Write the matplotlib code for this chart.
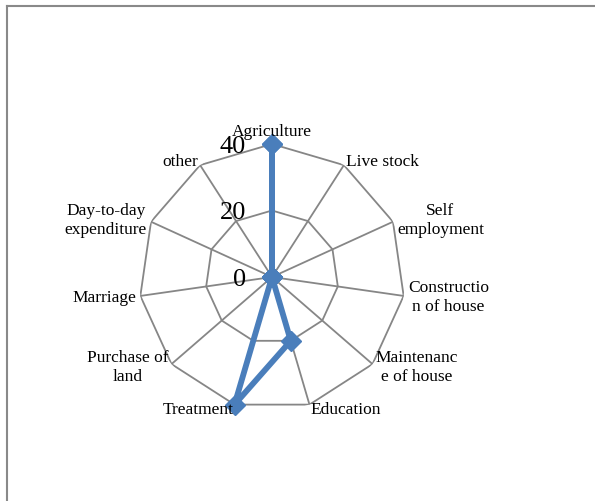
import numpy as np
import matplotlib
matplotlib.use("Agg")
import matplotlib.pyplot as plt
from matplotlib.lines import Line2D

plt.rcParams['font.family'] = ['Liberation Serif', 'DejaVu Serif']

categories = ["Agriculture", "Live stock", "Self\nemployment", "Constructio\nn of house",
              "Maintenanc\ne of house", "Education", "Treatment", "Purchase of\nland",
              "Marriage", "Day-to-day\nexpenditure", "other"]
values = [40, 0, 0, 0, 0, 20, 40, 0, 0, 0, 0]
rticks = [0, 20, 40]

W, H = 595, 502
fig = plt.figure(figsize=(W / 100, H / 100), dpi=100)

# plot area: centre at (272, 278) px, radius 133 px
cx, cy, R = 272, 278, 133
ax = fig.add_axes([(cx - R) / W, (H - cy - R) / H, 2 * R / W, 2 * R / H], polar=True)
ax.set_theta_zero_location('N')
ax.set_theta_direction(-1)
ax.set_ylim(0, 40)
ax.grid(False)
ax.spines['polar'].set_visible(False)
ax.set_xticks([])
ax.set_yticks([])
ax.patch.set_visible(False)

n = len(categories)
angles = np.arange(n) * 2 * np.pi / n
grid_col = '#868686'

# polygon gridlines and spokes
for r in rticks[1:]:
    ax.plot(np.append(angles, angles[0]), [r] * (n + 1), color=grid_col, lw=1.3, zorder=1)
for a in angles:
    ax.plot([a, a], [0, rticks[-1]], color=grid_col, lw=1.3, zorder=1)

# data series
ax.plot(np.append(angles, angles[0]), values + [values[0]], color='#4a7ebb', lw=4.2,
        marker='D', markersize=10, zorder=3, clip_on=False)

# category labels
for a, lab in zip(angles, categories):
    x = np.sin(a)
    if abs(x) < 0.1:
        ha = 'center'
    elif x > 0:
        ha = 'left'
    else:
        ha = 'right'
    va = 'bottom' if a == 0 else 'center'
    r = 41.5 if a == 0 else 41.3
    ax.text(a, r, lab, ha=ha, va=va, ma='center', fontsize=12.5, linespacing=1.25, zorder=4)

# radial value labels
for r in rticks:
    ax.annotate(str(r), xy=(0, r), xytext=(-26, -2), textcoords='offset pixels',
                ha='right', va='center', fontsize=19, zorder=4)

# outer chart border (top and left edges)
frame_col = '#898989'
fig.add_artist(Line2D([6.5 / W, 1], [1 - 6.5 / H, 1 - 6.5 / H], color=frame_col, lw=1.5))
fig.add_artist(Line2D([6.5 / W, 6.5 / W], [0, 1 - 6.5 / H], color=frame_col, lw=1.5))

fig.savefig("out.png", dpi=100)
